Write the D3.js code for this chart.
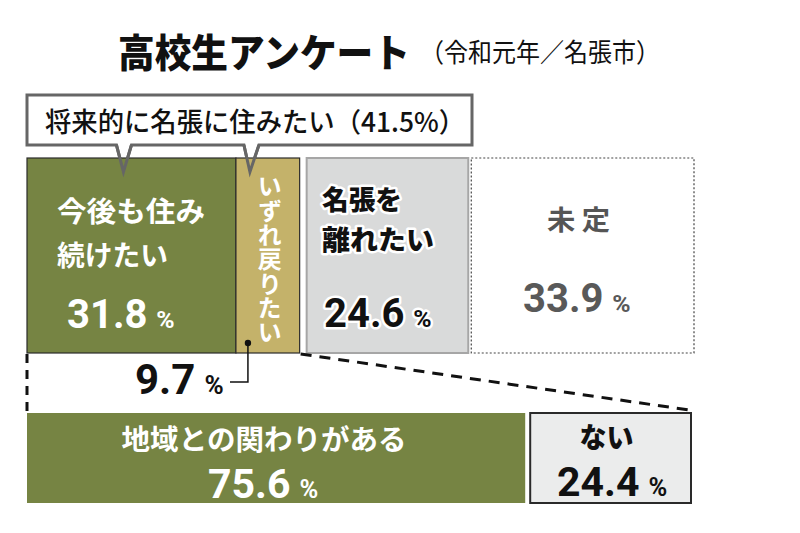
<!DOCTYPE html>
<html><head><meta charset="utf-8">
<script src="https://cdn.jsdelivr.net/npm/d3@7"></script>
<style>
body{margin:0;background:#fff}
svg{display:block}
text{font-family:"Noto Sans CJK JP","Noto Sans",sans-serif}
text.num{font-family:Roboto,"Noto Sans",sans-serif}
</style>
</head><body>
<svg id="chart" width="800" height="533"></svg>
<script>
// ---- data ----
const title = "高校生アンケート";
const subtitle = "（令和元年／名張市）";
const calloutLabel = "将来的に名張に住みたい";
const calloutValue = 41.5;
const topCategories = ["今後も住み続けたい", "いずれ戻りたい", "名張を離れたい", "未定"];
const topLines = [["今後も住み", "続けたい"], ["いずれ戻りたい"], ["名張を", "離れたい"], ["未 定"]];
const topValues = [31.8, 9.7, 24.6, 33.9];
const bottomCategories = ["地域との関わりがある", "ない"];
const bottomValues = [75.6, 24.4];

// ---- layout ----
const svg = d3.select("#chart");
const GREEN = "#768443", TAN = "#c4b26a";

const topGaps = [0, 0, 7, 10];
const xTop = d3.scaleLinear().domain([0, 100]).range([27, 684]);
const topStarts = d3.cumsum([0, ...topValues]).slice(0, topValues.length);
const topRects = topValues.map((v, i) => ({
  cat: topCategories[i], v,
  x0: xTop(topStarts[i]) + topGaps[i],
  x1: xTop(topStarts[i] + v) + topGaps[i]
}));
const yTop0 = 158, yTop1 = 353;

const botGaps = [0, 5];
const xBot = d3.scaleLinear().domain([0, 100]).range([27, 686]);
const botStarts = d3.cumsum([0, ...bottomValues]).slice(0, bottomValues.length);
const botRects = bottomValues.map((v, i) => ({
  cat: bottomCategories[i], v,
  x0: xBot(botStarts[i]) + botGaps[i],
  x1: xBot(botStarts[i] + v) + botGaps[i]
}));
const yBot0 = 413, yBot1 = 503;

// ---- title ----
svg.append("text").attr("x", 118).attr("y", 50).attr("dominant-baseline", "central")
  .attr("font-size", 39).attr("font-weight", 900).attr("fill", "#111")
  .attr("textLength", 292).attr("lengthAdjust", "spacingAndGlyphs").text(title);
svg.append("text").attr("x", 420).attr("y", 50).attr("dominant-baseline", "central")
  .attr("font-size", 26).attr("font-weight", 400).attr("fill", "#111")
  .attr("textLength", 240).attr("lengthAdjust", "spacingAndGlyphs").text(subtitle);

// ---- callout box (behind boxes) ----
const p1 = (topRects[0].x0 + topRects[0].x1) / 2 - 8;
const p2 = topRects[1].x0 + 14;
const cb = {x0: 27, x1: 472, y0: 95, y1: 145, tip: 172};
const calloutPath = `M${cb.x0},${cb.y0} H${cb.x1} V${cb.y1} H${p2 + 9} L${p2},${cb.tip} L${p2 - 6},${cb.y1} H${p1 + 8} L${p1},${cb.tip} L${p1 - 7},${cb.y1} H${cb.x0} Z`;
svg.append("path").attr("d", calloutPath).attr("fill", "#fff")
  .attr("stroke", "#666").attr("stroke-width", 3).attr("stroke-linejoin", "miter");

// ---- top bars ----
const topStyle = [
  {fill: GREEN, stroke: "#2b2b2b", sw: 1.2, dash: null},
  {fill: TAN, stroke: "#2b2b2b", sw: 1.2, dash: null},
  {fill: "#d9dada", stroke: "#a6a6a6", sw: 2, dash: null},
  {fill: "#fff", stroke: "#444", sw: 1.2, dash: "2,2"}
];
svg.append("g").selectAll("rect").data(topRects).join("rect")
  .attr("x", d => d.x0).attr("y", yTop0)
  .attr("width", d => d.x1 - d.x0).attr("height", yTop1 - yTop0)
  .attr("fill", (d, i) => topStyle[i].fill)
  .attr("stroke", (d, i) => topStyle[i].stroke)
  .attr("stroke-width", (d, i) => topStyle[i].sw)
  .attr("stroke-dasharray", (d, i) => topStyle[i].dash);

// callout pointer strokes on top of boxes
const ptr = svg.append("g").attr("fill", "none").attr("stroke", "#666").attr("stroke-width", 3);
ptr.append("path").attr("d", `M${p1 - 7},${cb.y1} L${p1},${cb.tip} L${p1 + 8},${cb.y1}`);
ptr.append("path").attr("d", `M${p2 - 6},${cb.y1} L${p2},${cb.tip} L${p2 + 9},${cb.y1}`);
svg.append("path").attr("d", `M${p1 - 5},${cb.y1 - 1} L${p1},${yTop0 - 1} L${p1 + 6},${cb.y1 - 1} Z`).attr("fill", "#fff");
svg.append("path").attr("d", `M${p2 - 4},${cb.y1 - 1} L${p2},${yTop0 - 1} L${p2 + 7},${cb.y1 - 1} Z`).attr("fill", "#fff");

svg.append("text").attr("x", 45).attr("y", 120).attr("dominant-baseline", "central")
  .attr("font-size", 27).attr("font-weight", 500).attr("fill", "#111")
  .attr("textLength", 420).attr("lengthAdjust", "spacingAndGlyphs")
  .text(`${calloutLabel}（${calloutValue}%）`);

// ---- bottom bars ----
const botStyle = [
  {fill: GREEN, stroke: "none", sw: 0},
  {fill: "#ebecec", stroke: "#2a2a2a", sw: 2}
];
svg.append("g").selectAll("rect").data(botRects).join("rect")
  .attr("x", d => d.x0).attr("y", yBot0)
  .attr("width", d => d.x1 - d.x0).attr("height", yBot1 - yBot0)
  .attr("fill", (d, i) => botStyle[i].fill)
  .attr("stroke", (d, i) => botStyle[i].stroke)
  .attr("stroke-width", (d, i) => botStyle[i].sw);

// ---- dashed connector lines ----
const dl = svg.append("g").attr("stroke", "#111").attr("stroke-width", 3).attr("fill", "none");
dl.append("line").attr("x1", topRects[0].x0).attr("y1", yTop1 + 1).attr("x2", botRects[0].x0).attr("y2", yBot0)
  .attr("stroke-dasharray", "9,7");
dl.append("line").attr("x1", topRects[1].x1 + 1).attr("y1", yTop1 + 1).attr("x2", botRects[1].x1 - 2).attr("y2", yBot0 - 3)
  .attr("stroke-dasharray", "11,8");

// ---- labels ----
function txt(x, y, s, size, weight, fill, opts = {}) {
  const t = svg.append("text").attr("x", x).attr("y", y)
    .attr("font-size", size).attr("font-weight", weight).attr("fill", fill)
    .attr("text-anchor", opts.anchor || "start");
  if (opts.central) t.attr("dominant-baseline", "central");
  if (opts.len) t.attr("textLength", opts.len).attr("lengthAdjust", "spacingAndGlyphs");
  if (opts.halo) t.attr("stroke", "#fff").attr("stroke-width", 5).attr("paint-order", "stroke").attr("stroke-linejoin", "round");
  if (opts.ls) t.attr("letter-spacing", opts.ls);
  t.text(s);
  return t;
}
function pct(x, y, v, size, fill, opts = {}) {
  const t = svg.append("text").attr("class", "num").attr("x", x).attr("y", y)
    .attr("font-size", size).attr("font-weight", 700).attr("fill", fill)
    .attr("text-anchor", opts.anchor || "start");
  if (opts.halo) t.attr("stroke", "#fff").attr("stroke-width", 5).attr("paint-order", "stroke").attr("stroke-linejoin", "round");
  t.append("tspan").text(d3.format(".1f")(v));
  t.append("tspan").attr("dx", size * 0.22).attr("font-size", size * 0.62).text("%");
  return t;
}

// top-left green
txt(57, 210, topLines[0][0], 28, 700, "#fff", {central: true, len: 148});
txt(57, 254, topLines[0][1], 28, 700, "#fff", {central: true, len: 111});
pct(67, 328, topValues[0], 40, "#fff");

// tan vertical (single vertical text)
const tanCx = (topRects[1].x0 + topRects[1].x1) / 2 + 2;
svg.append("text").attr("x", tanCx).attr("y", 174)
  .attr("font-size", 24).attr("font-weight", 700).attr("fill", "#fff")
  .style("writing-mode", "vertical-rl")
  .attr("textLength", 170).attr("lengthAdjust", "spacingAndGlyphs")
  .text(topLines[1][0]);

// gray
txt(322, 198, topLines[2][0], 27, 900, "#111", {central: true, len: 80, halo: true});
txt(322, 238, topLines[2][1], 27, 900, "#111", {central: true, len: 112, halo: true});
pct(324, 327, topValues[2], 40, "#111", {halo: true});

// undecided
txt(547, 218, topLines[3][0], 27, 700, "#555", {central: true, len: 63});
pct(523, 312, topValues[3], 40, "#595959");

// 9.7 leader
pct(135, 394, topValues[1], 42, "#111");
const dotX = topRects[1].x0 + 12;
svg.append("circle").attr("cx", dotX).attr("cy", 343).attr("r", 3.2).attr("fill", "#111");
svg.append("path").attr("d", `M${dotX},343 V382 H230`).attr("fill", "none").attr("stroke", "#111").attr("stroke-width", 1.5);

// bottom labels
const bg = (botRects[0].x0 + botRects[0].x1) / 2 - 12;
txt(bg, 438, bottomCategories[0], 28, 700, "#fff", {central: true, anchor: "middle", len: 285});
pct(208, 498, bottomValues[0], 41, "#fff");
const bn = (botRects[1].x0 + botRects[1].x1) / 2;
txt(bn - 4, 436, bottomCategories[1], 28, 900, "#111", {central: true, anchor: "middle", len: 54});
pct(557, 496, bottomValues[1], 41, "#111");
</script>
</body></html>
